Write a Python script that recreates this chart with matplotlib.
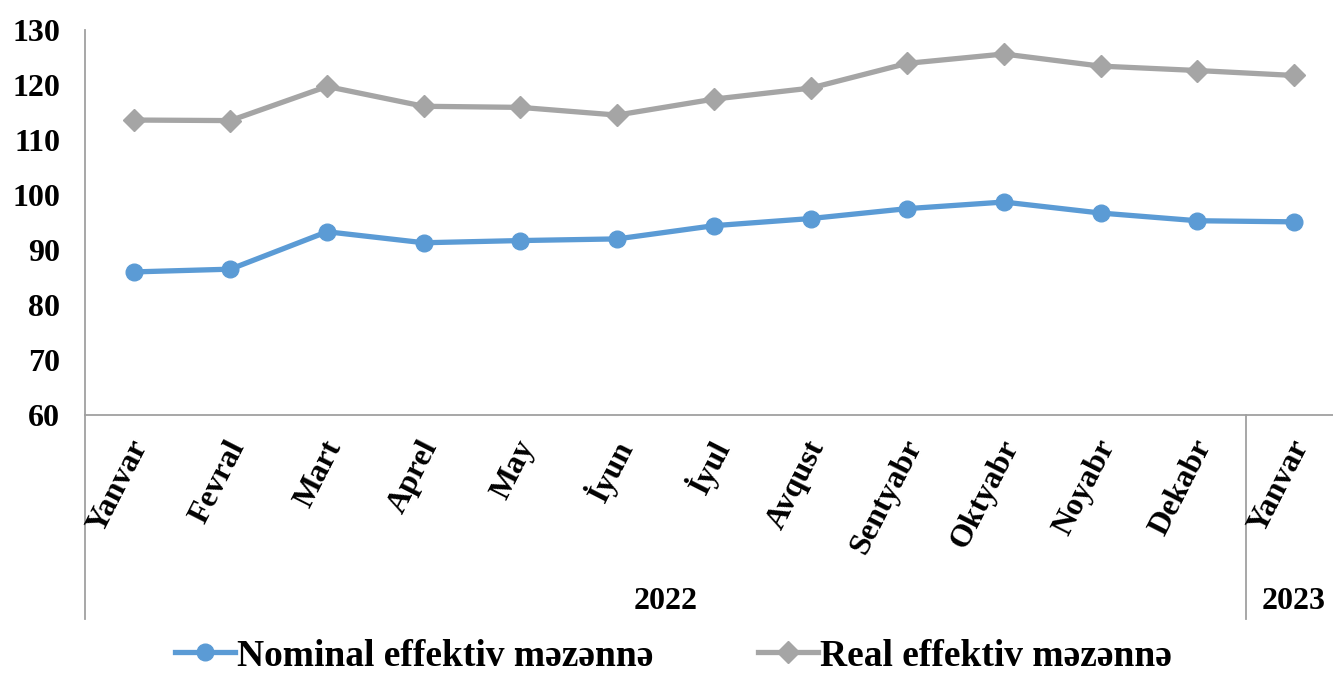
import matplotlib.pyplot as plt

plt.rcParams['font.family'] = ['Liberation Serif', 'DejaVu Serif']
plt.rcParams['font.weight'] = 'bold'

months = ["Yanvar", "Fevral", "Mart", "Aprel", "May", "İyun", "İyul",
          "Avqust", "Sentyabr", "Oktyabr", "Noyabr", "Dekabr", "Yanvar"]
years = ["2022", "2023"]
year_counts = [12, 1]
nominal = [86.0, 86.5, 93.3, 91.3, 91.7, 92.0, 94.4, 95.7, 97.5, 98.7, 96.7, 95.3, 95.1]
real = [113.6, 113.5, 119.7, 116.1, 115.9, 114.5, 117.4, 119.4, 123.9, 125.6, 123.4, 122.6, 121.7]

fig = plt.figure(figsize=(13.33, 6.77), dpi=100)
ax = fig.add_axes([0.064, 0.387, 0.943, 0.569])

x = list(range(len(months)))
ax.plot(x, nominal, color='#5B9BD5', lw=3.8, marker='o', markersize=12,
        label='Nominal effektiv məzənnə')
ax.plot(x, real, color='#A5A5A5', lw=3.8, marker='D', markersize=11,
        label='Real effektiv məzənnə')

ax.set_xlim(-0.5, len(months) - 0.5)
ax.set_ylim(60, 130)
ax.set_yticks(range(60, 131, 10))
ax.tick_params(axis='y', length=0, labelsize=23, pad=18)
ax.set_xticks([])
for s in ['top', 'right']:
    ax.spines[s].set_visible(False)
for s in ['left', 'bottom']:
    ax.spines[s].set_color('#A0A0A0')
    ax.spines[s].set_linewidth(1.3)
ax.spines['left'].set_bounds(60, 130)

# month labels
trans = ax.get_xaxis_transform()
for i, m in enumerate(months):
    ax.text(i + 0.08, -0.07, m, transform=trans, rotation=63, rotation_mode='anchor',
            ha='right', va='center', fontsize=23, fontweight='bold', clip_on=False)

# year labels and separators
start = 0
for yr, n in zip(years, year_counts):
    ax.text(start + (n - 1) / 2, -0.485, yr, transform=trans, ha='center', va='center',
            fontsize=23, fontweight='bold')
    start += n
for b in [-0.5, 11.5]:
    ax.plot([b, b], [0, -0.53], transform=trans, color='#A0A0A0', lw=1.3, clip_on=False)

fig.legend(loc='center', bbox_to_anchor=(0.505, 1 - 656 / 677), ncol=2, frameon=False,
           handlelength=1.6, columnspacing=2.8, handletextpad=0.05,
           prop={'weight': 'bold', 'size': 27})

fig.savefig('out.png', dpi=100)
